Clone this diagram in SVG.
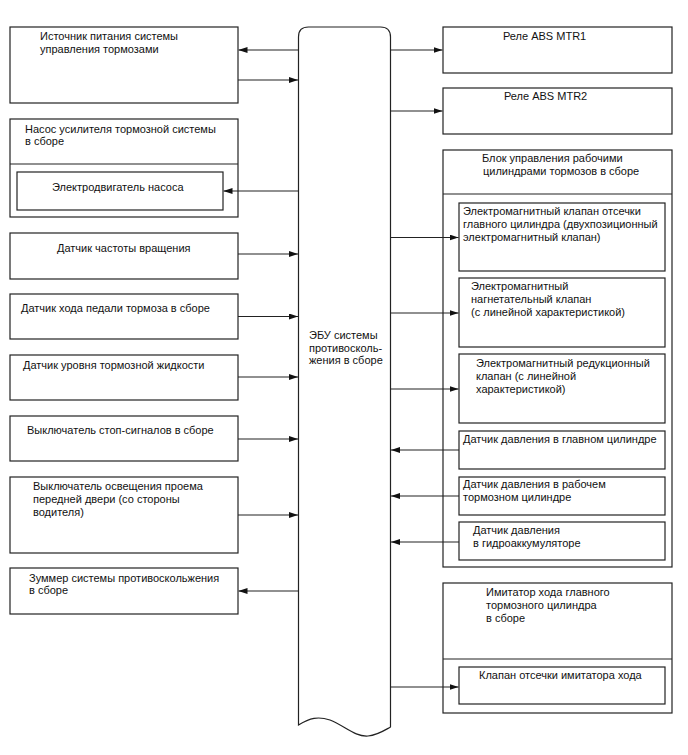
<svg xmlns="http://www.w3.org/2000/svg" width="688" height="755" viewBox="0 0 688 755">
<style>
.b{fill:#fff;stroke:#222;stroke-width:1.2}
.t{font-family:"Liberation Sans",Arial,sans-serif;font-size:11px;fill:#111}
.c{stroke:#222;stroke-width:1.1;fill:none}
</style>
<defs>
<marker id="ah" markerUnits="userSpaceOnUse" markerWidth="9" markerHeight="6" refX="9" refY="3" orient="auto"><path d="M0,0 L9,3 L0,6 z" fill="#111"/></marker>
</defs>
<rect width="688" height="755" fill="#fff"/>
<g id="ecu">
<path class="b" d="M298.5,725 L298.5,37 Q298.5,27 308.5,27 L380.5,27 Q390.5,27 390.5,37 L390.5,727 C385,730 378,735 368,736 C355,737 345,726 330,720 C318,716 310,718 298.5,725 Z"/>
<text class="t" x="309" y="339">ЭБУ системы</text>
<text class="t" x="309" y="351.5">противосколь-</text>
<text class="t" x="309" y="364">жения в сборе</text>
</g>
<g id="power">
<rect class="b" x="10" y="27" width="228" height="76"/>
<text class="t" x="40" y="40">Источник питания системы</text>
<text class="t" x="40" y="53">управления тормозами</text>
</g>
<g id="pump">
<rect class="b" x="10" y="119" width="228" height="98"/>
<line class="c" x1="10" y1="164" x2="238" y2="164"/>
<text class="t" x="25" y="133">Насос усилителя тормозной системы</text>
<text class="t" x="25" y="145">в сборе</text>
<rect class="b" x="17" y="172" width="206" height="38"/>
<text class="t" x="52" y="191">Электродвигатель насоса</text>
</g>
<g id="speed">
<rect class="b" x="10" y="233" width="228" height="46"/>
<text class="t" x="57" y="252">Датчик частоты вращения</text>
</g>
<g id="pedal">
<rect class="b" x="10" y="294" width="228" height="45"/>
<text class="t" x="21" y="312">Датчик хода педали тормоза в сборе</text>
</g>
<g id="fluid">
<rect class="b" x="10" y="355" width="228" height="45"/>
<text class="t" x="23" y="369">Датчик уровня тормозной жидкости</text>
</g>
<g id="stop">
<rect class="b" x="10" y="416" width="228" height="45"/>
<text class="t" x="27" y="434">Выключатель стоп-сигналов в сборе</text>
</g>
<g id="door">
<rect class="b" x="10" y="477" width="228" height="76"/>
<text class="t" x="33" y="490">Выключатель освещения проема</text>
<text class="t" x="33" y="503">передней двери (со стороны</text>
<text class="t" x="33" y="516">водителя)</text>
</g>
<g id="buzzer">
<rect class="b" x="10" y="568" width="228" height="46"/>
<text class="t" x="29" y="582">Зуммер системы противоскольжения</text>
<text class="t" x="29" y="594">в сборе</text>
</g>
<g id="mtr1">
<rect class="b" x="443" y="27" width="229" height="46"/>
<text class="t" x="503" y="39.5">Реле ABS MTR1</text>
</g>
<g id="mtr2">
<rect class="b" x="443" y="88" width="229" height="46"/>
<text class="t" x="504" y="100">Реле ABS MTR2</text>
</g>
<g id="actuator">
<rect class="b" x="443" y="150" width="229" height="417"/>
<line class="c" x1="443" y1="194" x2="672" y2="194"/>
<text class="t" x="482" y="162">Блок управления рабочими</text>
<text class="t" x="483" y="175">цилиндрами тормозов в сборе</text>
</g>
<g id="cutvalve">
<rect class="b" x="459" y="203" width="206" height="68"/>
<text class="t" x="463" y="215">Электромагнитный клапан отсечки</text>
<text class="t" x="463" y="228">главного цилиндра (двухпозиционный</text>
<text class="t" x="463" y="241">электромагнитный клапан)</text>
</g>
<g id="incvalve">
<rect class="b" x="459" y="278" width="206" height="69"/>
<text class="t" x="471" y="290">Электромагнитный</text>
<text class="t" x="471" y="303">нагнетательный клапан</text>
<text class="t" x="471" y="316">(с линейной характеристикой)</text>
</g>
<g id="redvalve">
<rect class="b" x="459" y="354" width="206" height="69"/>
<text class="t" x="476" y="367">Электромагнитный редукционный</text>
<text class="t" x="476" y="379.5">клапан (с линейной</text>
<text class="t" x="476" y="392.5">характеристикой)</text>
</g>
<g id="mcpress">
<rect class="b" x="459" y="431" width="206" height="38"/>
<text class="t" x="463" y="442.5">Датчик давления в главном цилиндре</text>
</g>
<g id="wcpress">
<rect class="b" x="459" y="477" width="206" height="38"/>
<text class="t" x="463" y="487.5">Датчик давления в рабочем</text>
<text class="t" x="463" y="501">тормозном цилиндре</text>
</g>
<g id="accpress">
<rect class="b" x="459" y="522" width="206" height="38"/>
<text class="t" x="473" y="533.5">Датчик давления</text>
<text class="t" x="473" y="546.5">в гидроаккумуляторе</text>
</g>
<g id="simulator">
<rect class="b" x="443" y="583" width="229" height="130"/>
<line class="c" x1="443" y1="659" x2="672" y2="659"/>
<text class="t" x="486" y="596">Имитатор хода главного</text>
<text class="t" x="486" y="609">тормозного цилиндра</text>
<text class="t" x="486" y="622">в сборе</text>
<rect class="b" x="459" y="667" width="206" height="37"/>
<text class="t" x="479" y="678.5">Клапан отсечки имитатора хода</text>
</g>
<g id="connectors">
<line class="c" x1="298.5" y1="50" x2="238.5" y2="50" marker-end="url(#ah)"/>
<line class="c" x1="238" y1="80" x2="298" y2="80" marker-end="url(#ah)"/>
<line class="c" x1="298.5" y1="191" x2="223.5" y2="191" marker-end="url(#ah)"/>
<line class="c" x1="238" y1="254" x2="298" y2="254" marker-end="url(#ah)"/>
<line class="c" x1="238" y1="316.5" x2="298" y2="316.5" marker-end="url(#ah)"/>
<line class="c" x1="238" y1="377" x2="298" y2="377" marker-end="url(#ah)"/>
<line class="c" x1="238" y1="439" x2="298" y2="439" marker-end="url(#ah)"/>
<line class="c" x1="238" y1="515" x2="298" y2="515" marker-end="url(#ah)"/>
<line class="c" x1="298.5" y1="591" x2="238.5" y2="591" marker-end="url(#ah)"/>
<line class="c" x1="390.5" y1="50" x2="442.5" y2="50" marker-end="url(#ah)"/>
<line class="c" x1="390.5" y1="111" x2="442.5" y2="111" marker-end="url(#ah)"/>
<line class="c" x1="390.5" y1="237.5" x2="458.5" y2="237.5" marker-end="url(#ah)"/>
<line class="c" x1="390.5" y1="313" x2="458.5" y2="313" marker-end="url(#ah)"/>
<line class="c" x1="390.5" y1="389" x2="458.5" y2="389" marker-end="url(#ah)"/>
<line class="c" x1="459" y1="450" x2="391" y2="450" marker-end="url(#ah)"/>
<line class="c" x1="459" y1="496" x2="391" y2="496" marker-end="url(#ah)"/>
<line class="c" x1="459" y1="542" x2="391" y2="542" marker-end="url(#ah)"/>
<line class="c" x1="390.5" y1="687" x2="458.5" y2="687" marker-end="url(#ah)"/>
</g>
</svg>
